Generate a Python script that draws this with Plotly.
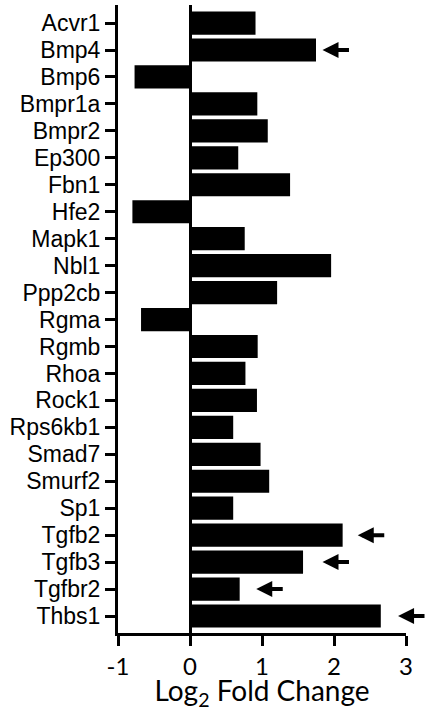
import plotly.graph_objects as go

# Genes and their log2 fold changes
genes = ["Acvr1", "Bmp4", "Bmp6", "Bmpr1a", "Bmpr2", "Ep300", "Fbn1", "Hfe2",
         "Mapk1", "Nbl1", "Ppp2cb", "Rgma", "Rgmb", "Rhoa", "Rock1", "Rps6kb1",
         "Smad7", "Smurf2", "Sp1", "Tgfb2", "Tgfb3", "Tgfbr2", "Thbs1"]
log2_fc = [0.91, 1.75, -0.77, 0.935, 1.08, 0.67, 1.39, -0.80,
           0.76, 1.96, 1.21, -0.68, 0.94, 0.77, 0.93, 0.60,
           0.98, 1.10, 0.60, 2.12, 1.57, 0.69, 2.65]

# Highlighted genes and the x value where each arrow tip sits
arrow_genes = ["Bmp4", "Tgfb2", "Tgfb3", "Tgfbr2", "Thbs1"]
arrow_tips = [1.84, 2.33, 1.84, 0.92, 2.89]

x_ticks = [-1, 0, 1, 2, 3]
x_tick_text = ["-1", "0", "1", "2", "3"]

fig = go.Figure(go.Bar(
    x=log2_fc, y=genes, orientation="h",
    marker=dict(color="black", line=dict(width=0)),
    width=0.86,
))

for g, tip in zip(arrow_genes, arrow_tips):
    fig.add_annotation(
        x=tip, y=g, xref="x", yref="y",
        ax=28, ay=0, axref="pixel", ayref="pixel",
        text="", showarrow=True,
        arrowhead=2, arrowsize=0.8, arrowwidth=4, arrowcolor="black",
        standoff=0, startstandoff=0,
    )

fig.update_layout(
    width=426, height=711,
    margin=dict(l=118, r=20, t=5, b=78),
    paper_bgcolor="white", plot_bgcolor="white",
    showlegend=False,
    xaxis=dict(
        range=[-1, 3], tickmode="array", tickvals=x_ticks, ticktext=x_tick_text,
        ticks="outside", ticklen=10, tickwidth=3, tickcolor="black",
        showline=True, linewidth=3, linecolor="black",
        showgrid=False,
        zeroline=True, zerolinewidth=3, zerolinecolor="black",
        tickfont=dict(family="Lato", size=24, color="black"),
        title=dict(text="Log<sub>2</sub> Fold Change",
                   font=dict(family="Lato", size=28, color="black"),
                   standoff=5),
    ),
    yaxis=dict(
        type="category", categoryorder="array", categoryarray=genes,
        tickmode="array", tickvals=genes, ticktext=genes,
        range=[22.63, -0.67],
        ticks="outside", ticklen=10, tickwidth=3, tickcolor="black",
        showline=True, linewidth=3, linecolor="black",
        showgrid=False,
        tickfont=dict(family="Liberation Sans", size=23, color="black"),
    ),
)

fig.write_html("out.html")
